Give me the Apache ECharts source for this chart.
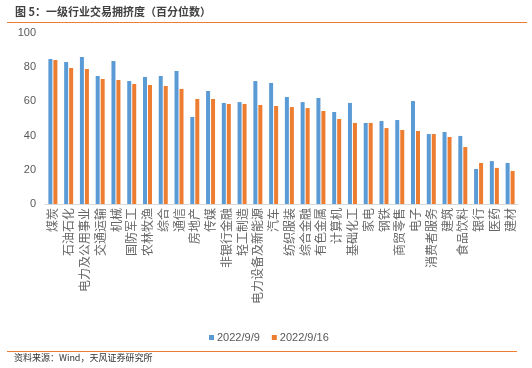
<!DOCTYPE html>
<html>
<head>
<meta charset="utf-8">
<script src="https://cdn.jsdelivr.net/npm/echarts@6/dist/echarts.min.js"></script>
<style>
html,body{margin:0;padding:0;background:#fff;}
#main{width:532px;height:368px;}
</style>
</head>
<body>
<div id="main"></div>
<script>
var categories = ['煤炭','石油石化','电力及公用事业','交通运输','机械','国防军工','农林牧渔','综合','通信','房地产','传媒','非银行金融','轻工制造','电力设备及新能源','汽车','纺织服装','综合金融','有色金属','计算机','基础化工','家电','钢铁','商贸零售','电子','消费者服务','建筑','食品饮料','银行','医药','建材'];
var seriesNames = ['2022/9/9','2022/9/16'];
var values0909 = [84.8,83.0,86.0,74.9,83.6,71.9,74.3,74.9,77.8,50.9,66.1,59.1,59.6,71.9,70.8,62.6,59.6,62.0,53.8,59.1,47.4,48.5,49.1,60.2,40.9,42.1,39.8,20.5,25.1,24.0];
var values0916 = [84.2,79.5,78.9,73.1,72.5,70.2,69.6,69.0,67.3,61.4,61.4,58.5,58.5,57.9,57.3,56.7,56.1,54.4,49.7,47.4,47.4,44.4,43.3,42.7,40.9,39.2,33.3,24.0,21.1,19.3];
var yTicks = [0,20,40,60,80,100];
var titleText = '图 5：一级行业交易拥挤度（百分位数）';
var sourceText = '资料来源：Wind，天风证券研究所';

var cjk = '"Noto Sans CJK SC", sans-serif';
var num = '"Liberation Sans", Arial, sans-serif';
var chart = echarts.init(document.getElementById('main'), null, {renderer:'canvas'});
chart.setOption({
  animation:false,
  backgroundColor:'#ffffff',
  grid:{left:45, right:14, top:33, bottom:164, containLabel:false},
  legend:{
    data:seriesNames, left:204, top:327, icon:'rect', itemWidth:5, itemHeight:5, itemGap:12,
    textStyle:{color:'#595959', fontSize:11, fontFamily:num, padding:[0,0,0,-2]}
  },
  xAxis:{
    type:'category', data:categories,
    axisLine:{lineStyle:{color:'#d9d9d9', width:1}},
    axisTick:{show:false},
    axisLabel:{interval:0, rotate:90, color:'#666666', fontSize:12, fontFamily:cjk, margin:4}
  },
  yAxis:{
    type:'value', min:yTicks[0], max:yTicks[yTicks.length-1], interval:20,
    splitLine:{show:false}, axisLine:{show:false}, axisTick:{show:false},
    axisLabel:{color:'#595959', fontSize:11, fontFamily:num, margin:9}
  },
  series:[
    {name:seriesNames[0], type:'bar', data:values0909, barWidth:4, barGap:'25%', itemStyle:{color:'#5B9BD5'}},
    {name:seriesNames[1], type:'bar', data:values0916, barWidth:4, barGap:'25%', itemStyle:{color:'#ED7D31'}}
  ],
  graphic:[
    {type:'text', left:15, top:6, style:{text:titleText, fill:'#404040', font:'bold 11px "Noto Sans CJK SC", sans-serif'}},
    {type:'line', shape:{x1:7, y1:22.5, x2:527, y2:22.5}, style:{stroke:'#ED7D31', lineWidth:1}},
    {type:'line', shape:{x1:7, y1:351.5, x2:517, y2:351.5}, style:{stroke:'#ED7D31', lineWidth:1}},
    {type:'text', left:14, top:353, style:{text:sourceText, fill:'#333333', font:'9px "Noto Sans CJK SC", sans-serif'}}
  ]
});
</script>
</body>
</html>
